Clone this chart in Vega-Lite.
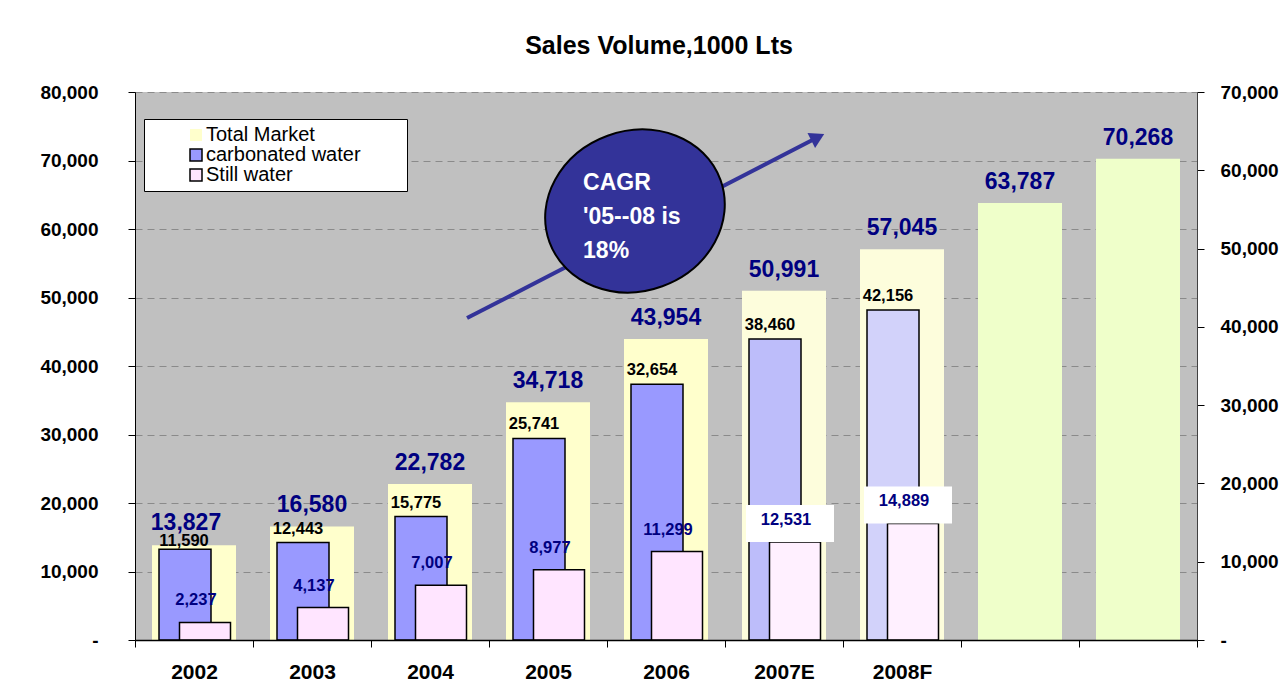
{
  "$schema": "https://vega.github.io/schema/vega-lite/v6.json",
  "width": 1062,
  "height": 548,
  "autosize": "none",
  "padding": {"left": 135, "top": 92, "right": 90, "bottom": 51},
  "background": "white",
  "title": {"text": "Sales Volume,1000 Lts", "font": "Liberation Sans", "fontSize": 25, "fontWeight": "bold", "color": "black", "anchor": "middle", "frame": "group", "baseline": "alphabetic", "offset": 4, "dx": -7},
  "config": {
    "font": "Liberation Sans",
    "view": {"fill": "#C0C0C0", "stroke": null},
    "legend": {
      "orient": "none", "legendX": 9, "legendY": 27,
      "fillColor": "white", "strokeColor": "black", "padding": 6,
      "symbolType": "square", "symbolSize": 144, "symbolStrokeWidth": 1.5, "symbolOffset": 36,
      "labelFont": "Liberation Sans", "labelFontSize": 20, "labelColor": "black", "labelOffset": 0,
      "rowPadding": -2, "titleOrient": "right", "titlePadding": 40, "titleFontSize": 8
    }
  },
  "datasets": {
    "sales": [
      {"year": "2002", "series": "Total Market", "value": 13827},
      {"year": "2003", "series": "Total Market", "value": 16580},
      {"year": "2004", "series": "Total Market", "value": 22782},
      {"year": "2005", "series": "Total Market", "value": 34718},
      {"year": "2006", "series": "Total Market", "value": 43954},
      {"year": "2007E", "series": "Total Market", "value": 50991},
      {"year": "2008F", "series": "Total Market", "value": 57045},
      {"year": " ", "series": "Total Market", "value": 63787},
      {"year": "  ", "series": "Total Market", "value": 70268},
      {"year": "2002", "series": "carbonated water", "value": 11590},
      {"year": "2003", "series": "carbonated water", "value": 12443},
      {"year": "2004", "series": "carbonated water", "value": 15775},
      {"year": "2005", "series": "carbonated water", "value": 25741},
      {"year": "2006", "series": "carbonated water", "value": 32654},
      {"year": "2007E", "series": "carbonated water", "value": 38460},
      {"year": "2008F", "series": "carbonated water", "value": 42156},
      {"year": "2002", "series": "Still water", "value": 2237},
      {"year": "2003", "series": "Still water", "value": 4137},
      {"year": "2004", "series": "Still water", "value": 7007},
      {"year": "2005", "series": "Still water", "value": 8977},
      {"year": "2006", "series": "Still water", "value": 11299},
      {"year": "2007E", "series": "Still water", "value": 12531},
      {"year": "2008F", "series": "Still water", "value": 14889}
    ]
  },
  "resolve": {"scale": {"x": "independent", "y": "independent"}},
  "layer": [
    {
      "data": {"name": "sales"},
      "transform": [{"filter": "datum.series == 'Total Market'"}],
      "encoding": {
        "x": {"field": "year", "type": "nominal", "sort": null,
          "scale": {"domain": ["2002", "2003", "2004", "2005", "2006", "2007E", "2008F", " ", "  "], "paddingInner": 0, "paddingOuter": 0},
          "axis": {"title": null, "labelAngle": 0, "labelFont": "Liberation Sans", "labelFontSize": 21, "labelFontWeight": "bold", "labelColor": "black", "labelPadding": 14, "tickSize": 7, "tickColor": "black", "tickBand": "extent", "domainColor": "black", "domainWidth": 1.5, "grid": false, "zindex": 1}},
        "y": {"field": "value", "type": "quantitative",
          "scale": {"domain": [0, 80000], "nice": false},
          "axis": {"title": null, "values": [0, 10000, 20000, 30000, 40000, 50000, 60000, 70000, 80000],
            "labelExpr": "datum.value == 0 ? '-    ' : format(datum.value, ',')",
            "labelFont": "Liberation Sans", "labelFontSize": 19, "labelFontWeight": "bold", "labelColor": "black", "labelPadding": 30,
            "tickSize": 7, "tickColor": "black", "domainColor": "black",
            "grid": true, "gridColor": "#8a8a8a", "gridDash": [7, 5], "gridWidth": 1}}
      },
      "layer": [
        {
          "mark": {"type": "bar", "width": 84},
          "encoding": {
            "fill": {"field": "series", "type": "nominal",
              "scale": {"domain": ["Total Market", "carbonated water", "Still water"], "range": ["#FFFFCC", "#9999FF", "#FFE5FF"]},
              "legend": {"title": " "},
              "condition": [
                {"test": "datum.year == '2007E' || datum.year == '2008F'", "value": "#FDFDDC"},
                {"test": "datum.year == ' ' || datum.year == '  '", "value": "#EFFFCA"}
              ]}
          }
        },
        {
          "transform": [{"filter": "datum.year != '2002'"}],
          "mark": {"type": "text", "font": "Liberation Sans", "fontSize": 23, "fontWeight": "bold", "fill": "#000080", "baseline": "middle", "dy": -21},
          "encoding": {"text": {"field": "value", "type": "quantitative", "format": ","}}
        },
        {
          "transform": [{"filter": "datum.year == '2002'"}],
          "mark": {"type": "text", "font": "Liberation Sans", "fontSize": 23, "fontWeight": "bold", "fill": "#000080", "baseline": "middle", "dy": -22, "dx": -8},
          "encoding": {"text": {"field": "value", "type": "quantitative", "format": ","}}
        }
      ]
    },
    {
      "data": {"name": "sales"},
      "transform": [{"filter": "datum.series != 'Total Market'"}],
      "encoding": {
        "x": {"field": "year", "type": "nominal", "sort": null,
          "scale": {"domain": ["2002", "2003", "2004", "2005", "2006", "2007E", "2008F", " ", "  "], "paddingInner": 0, "paddingOuter": 0},
          "axis": null},
        "y": {"field": "value", "type": "quantitative",
          "scale": {"domain": [0, 70000], "nice": false},
          "axis": {"orient": "right", "title": null, "values": [0, 10000, 20000, 30000, 40000, 50000, 60000, 70000],
            "labelExpr": "datum.value == 0 ? '-' : format(datum.value, ',')",
            "labelFont": "Liberation Sans", "labelFontSize": 19, "labelFontWeight": "bold", "labelColor": "black", "labelPadding": 16,
            "tickSize": 7, "tickColor": "black", "domainColor": "#404040", "grid": false}}
      },
      "layer": [
        {
          "transform": [{"filter": "datum.series == 'carbonated water'"}],
          "mark": {"type": "bar", "width": 52, "xOffset": -9, "strokeWidth": 1.5},
          "encoding": {
            "fill": {"field": "series", "type": "nominal",
              "scale": {"domain": ["Total Market", "carbonated water", "Still water"], "range": ["#FFFFCC", "#9999FF", "#FFE5FF"]},
              "legend": {"title": " "},
              "condition": [
                {"test": "datum.year == '2007E'", "value": "#BDBDFA"},
                {"test": "datum.year == '2008F'", "value": "#D2D2FA"}
              ]},
            "stroke": {"field": "series", "type": "nominal",
              "scale": {"domain": ["Total Market", "carbonated water", "Still water"], "range": ["transparent", "black", "black"]},
              "legend": {"title": " "}}
          }
        },
        {
          "transform": [{"filter": "datum.series == 'carbonated water' && datum.year != '2002'"}],
          "mark": {"type": "text", "font": "Liberation Sans", "fontSize": 16.5, "fontWeight": "bold", "fill": "black", "baseline": "middle", "dy": -14, "dx": -14},
          "encoding": {"text": {"field": "value", "type": "quantitative", "format": ","}}
        },
        {
          "transform": [{"filter": "datum.series == 'carbonated water' && datum.year == '2002'"}],
          "mark": {"type": "text", "font": "Liberation Sans", "fontSize": 16.5, "fontWeight": "bold", "fill": "black", "baseline": "middle", "dy": -8, "dx": -10},
          "encoding": {"text": {"field": "value", "type": "quantitative", "format": ","}}
        },
        {
          "transform": [{"filter": "datum.series == 'Still water'"}],
          "mark": {"type": "bar", "width": 51, "xOffset": 11, "strokeWidth": 1.5},
          "encoding": {
            "fill": {"field": "series", "type": "nominal",
              "scale": {"domain": ["Total Market", "carbonated water", "Still water"], "range": ["#FFFFCC", "#9999FF", "#FFE5FF"]},
              "legend": {"title": " "},
              "condition": [
                {"test": "datum.year == '2007E' || datum.year == '2008F'", "value": "#FFF0FF"}
              ]},
            "stroke": {"field": "series", "type": "nominal",
              "scale": {"domain": ["Total Market", "carbonated water", "Still water"], "range": ["transparent", "black", "black"]},
              "legend": {"title": " "}}
          }
        },
        {
          "transform": [{"filter": "datum.series == 'Still water' && (datum.year == '2007E' || datum.year == '2008F')"}],
          "mark": {"type": "point", "shape": "M-1,-0.42L1,-0.42L1,0.42L-1,0.42Z", "size": 7744, "filled": true, "fill": "white", "opacity": 1, "strokeWidth": 0, "xOffset": 6, "yOffset": -18.5},
          "encoding": {}
        },
        {
          "transform": [{"filter": "datum.series == 'Still water'"}],
          "mark": {"type": "text", "font": "Liberation Sans", "fontSize": 16.5, "fontWeight": "bold", "fill": "#000080", "baseline": "middle", "dy": -22, "dx": 2},
          "encoding": {"text": {"field": "value", "type": "quantitative", "format": ","}}
        }
      ]
    },
    {
      "layer": [
        {
          "data": {"values": [{"x_start": 2.814, "y_start": 47000, "x_end": 5.786, "y_end": 73400}]},
          "mark": {"type": "rule", "stroke": "#333399", "strokeWidth": 4},
          "encoding": {
            "x": {"field": "x_start", "type": "quantitative", "scale": {"domain": [0, 9], "nice": false, "zero": false}, "axis": null},
            "y": {"field": "y_start", "type": "quantitative", "scale": {"domain": [0, 80000], "nice": false}, "axis": null},
            "x2": {"field": "x_end"},
            "y2": {"field": "y_end"}
          }
        },
        {
          "data": {"values": [{"x_end": 5.786, "y_end": 73400}]},
          "mark": {"type": "point", "shape": "triangle-right", "filled": true, "fill": "#333399", "opacity": 1, "size": 280, "angle": -27, "strokeWidth": 0},
          "encoding": {
            "x": {"field": "x_end", "type": "quantitative", "scale": {"domain": [0, 9], "nice": false, "zero": false}, "axis": null},
            "y": {"field": "y_end", "type": "quantitative", "scale": {"domain": [0, 80000], "nice": false}, "axis": null}
          }
        },
        {
          "data": {"values": [{"cx": 4.237, "cy": 62630, "label": "CAGR\n'05--08 is\n18%", "tx": 3.797, "ty": 66700}]},
          "layer": [
            {
              "mark": {"type": "point", "shape": "M-1,0A1,0.88,0,1,1,1,0A1,0.88,0,1,1,-1,0Z", "size": 33124, "angle": -20, "filled": true, "fill": "#333399", "opacity": 1, "stroke": "black", "strokeWidth": 2},
              "encoding": {
                "x": {"field": "cx", "type": "quantitative", "scale": {"domain": [0, 9], "nice": false, "zero": false}, "axis": null},
                "y": {"field": "cy", "type": "quantitative", "scale": {"domain": [0, 80000], "nice": false}, "axis": null}
              }
            },
            {
              "mark": {"type": "text", "font": "Liberation Sans", "fontSize": 23, "fontWeight": "bold", "fill": "white", "align": "left", "baseline": "middle", "lineBreak": "\n", "lineHeight": 34},
              "encoding": {
                "x": {"field": "tx", "type": "quantitative", "scale": {"domain": [0, 9], "nice": false, "zero": false}, "axis": null},
                "y": {"field": "ty", "type": "quantitative", "scale": {"domain": [0, 80000], "nice": false}, "axis": null},
                "text": {"field": "label", "type": "nominal"}
              }
            }
          ]
        }
      ]
    }
  ]
}
